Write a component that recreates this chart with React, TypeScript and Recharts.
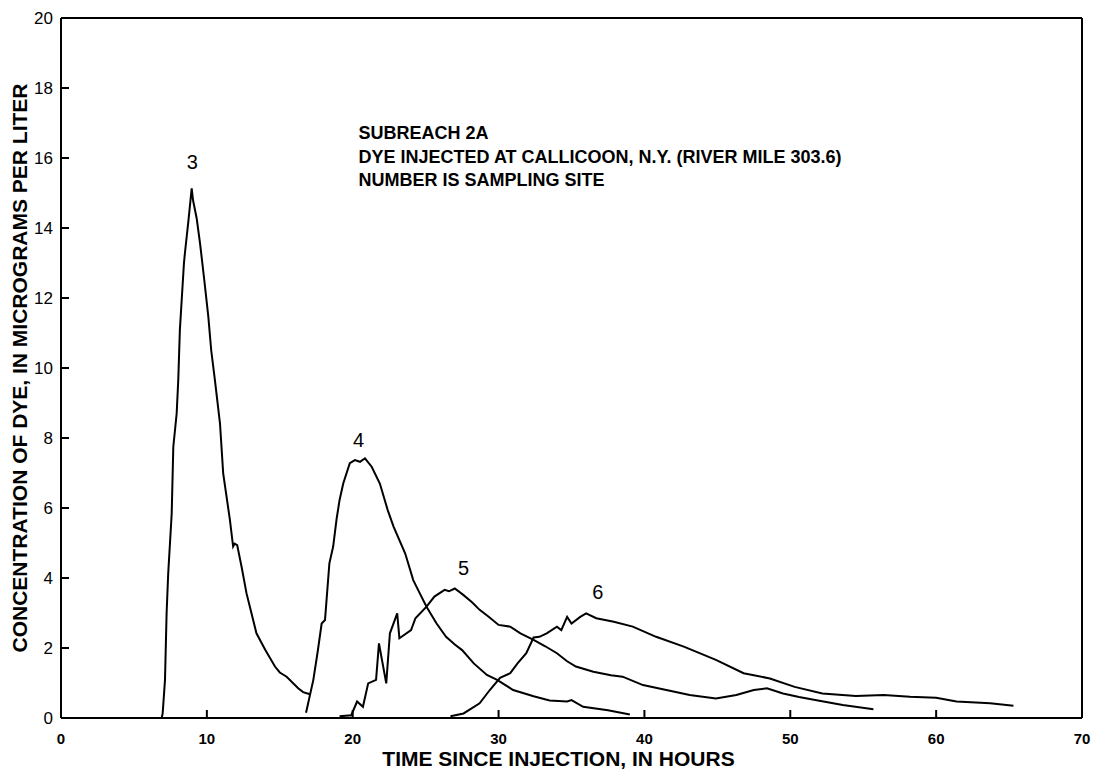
import {
  LineChart,
  Line,
  XAxis,
  YAxis,
  ReferenceDot,
} from "recharts";

// concentration (micrograms per liter) vs time since injection (hours)
const site3 = [
  { t: 6.9, c: 0 }, { t: 6.97, c: 0.13 }, { t: 7.13, c: 1.09 }, { t: 7.24, c: 2.99 },
  { t: 7.35, c: 4.13 }, { t: 7.5, c: 5.2 }, { t: 7.59, c: 5.85 }, { t: 7.7, c: 7.75 },
  { t: 7.93, c: 8.7 }, { t: 8.04, c: 9.66 }, { t: 8.15, c: 11.09 }, { t: 8.43, c: 13.0 },
  { t: 8.5, c: 13.3 }, { t: 8.73, c: 14.18 }, { t: 8.96, c: 15.13 }, { t: 9.05, c: 14.8 },
  { t: 9.3, c: 14.28 }, { t: 9.53, c: 13.57 }, { t: 9.8, c: 12.6 }, { t: 10.1, c: 11.47 },
  { t: 10.3, c: 10.5 }, { t: 10.55, c: 9.66 }, { t: 10.9, c: 8.42 }, { t: 11.12, c: 6.99 },
  { t: 11.58, c: 5.66 }, { t: 11.8, c: 4.9 }, { t: 11.9, c: 4.98 }, { t: 12.08, c: 4.94 },
  { t: 12.38, c: 4.32 }, { t: 12.72, c: 3.56 }, { t: 13.4, c: 2.42 }, { t: 14.0, c: 1.95 },
  { t: 14.67, c: 1.47 }, { t: 15.0, c: 1.3 }, { t: 15.47, c: 1.18 }, { t: 16.26, c: 0.85 },
  { t: 16.6, c: 0.74 }, { t: 17.07, c: 0.68 },
];

const site4 = [
  { t: 16.8, c: 0.15 }, { t: 17.3, c: 1.09 }, { t: 17.6, c: 1.9 }, { t: 17.87, c: 2.7 },
  { t: 18.1, c: 2.8 }, { t: 18.4, c: 4.42 }, { t: 18.66, c: 4.9 }, { t: 18.9, c: 5.7 },
  { t: 19.1, c: 6.23 }, { t: 19.35, c: 6.7 }, { t: 19.8, c: 7.28 }, { t: 20.15, c: 7.37 },
  { t: 20.5, c: 7.32 }, { t: 20.84, c: 7.42 }, { t: 21.3, c: 7.18 }, { t: 21.86, c: 6.7 },
  { t: 22.4, c: 5.94 }, { t: 22.8, c: 5.47 }, { t: 23.6, c: 4.7 }, { t: 24.15, c: 3.94 },
  { t: 24.6, c: 3.56 }, { t: 25.06, c: 3.18 }, { t: 25.75, c: 2.7 }, { t: 26.4, c: 2.32 },
  { t: 27.0, c: 2.1 }, { t: 27.5, c: 1.94 }, { t: 28.3, c: 1.56 }, { t: 29.2, c: 1.23 },
  { t: 29.9, c: 1.09 }, { t: 31.0, c: 0.8 }, { t: 32.4, c: 0.62 }, { t: 33.5, c: 0.5 },
  { t: 34.7, c: 0.47 }, { t: 35.0, c: 0.51 }, { t: 35.8, c: 0.32 }, { t: 37.5, c: 0.22 },
  { t: 39.0, c: 0.1 },
];

const site5 = [
  { t: 19.1, c: 0.05 }, { t: 19.9, c: 0.08 }, { t: 20.3, c: 0.47 }, { t: 20.7, c: 0.32 },
  { t: 21.06, c: 0.99 }, { t: 21.6, c: 1.09 }, { t: 21.8, c: 2.13 }, { t: 22.3, c: 0.99 },
  { t: 22.55, c: 2.42 }, { t: 23.05, c: 2.99 }, { t: 23.2, c: 2.28 }, { t: 24.0, c: 2.51 },
  { t: 24.3, c: 2.85 }, { t: 25.06, c: 3.18 }, { t: 25.6, c: 3.47 }, { t: 26.3, c: 3.66 },
  { t: 26.6, c: 3.62 }, { t: 27.0, c: 3.7 }, { t: 27.6, c: 3.51 }, { t: 28.2, c: 3.3 },
  { t: 28.7, c: 3.09 }, { t: 29.3, c: 2.9 }, { t: 30.0, c: 2.66 }, { t: 30.8, c: 2.61 },
  { t: 31.5, c: 2.42 }, { t: 32.4, c: 2.23 }, { t: 33.2, c: 2.05 }, { t: 34.0, c: 1.85 },
  { t: 34.7, c: 1.62 }, { t: 35.3, c: 1.47 }, { t: 36.5, c: 1.32 }, { t: 37.7, c: 1.22 },
  { t: 38.5, c: 1.18 }, { t: 39.9, c: 0.94 }, { t: 41.5, c: 0.8 }, { t: 43.1, c: 0.66 },
  { t: 44.9, c: 0.56 }, { t: 46.3, c: 0.66 }, { t: 47.5, c: 0.8 }, { t: 48.4, c: 0.85 },
  { t: 49.5, c: 0.7 }, { t: 50.6, c: 0.6 }, { t: 51.8, c: 0.51 }, { t: 53.6, c: 0.37 },
  { t: 55.7, c: 0.25 },
];

const site6 = [
  { t: 26.7, c: 0.05 }, { t: 27.6, c: 0.13 }, { t: 28.7, c: 0.42 }, { t: 29.4, c: 0.8 },
  { t: 30.1, c: 1.15 }, { t: 30.8, c: 1.28 }, { t: 31.3, c: 1.56 }, { t: 31.9, c: 1.85 },
  { t: 32.4, c: 2.3 }, { t: 32.8, c: 2.32 }, { t: 33.3, c: 2.42 }, { t: 34.0, c: 2.61 },
  { t: 34.3, c: 2.51 }, { t: 34.7, c: 2.89 }, { t: 35.0, c: 2.7 }, { t: 35.6, c: 2.89 },
  { t: 36.0, c: 2.99 }, { t: 36.7, c: 2.85 }, { t: 37.9, c: 2.75 }, { t: 39.2, c: 2.61 },
  { t: 40.8, c: 2.32 }, { t: 42.7, c: 2.04 }, { t: 44.9, c: 1.66 }, { t: 46.8, c: 1.28 },
  { t: 48.6, c: 1.13 }, { t: 50.3, c: 0.89 }, { t: 52.2, c: 0.7 }, { t: 54.5, c: 0.63 },
  { t: 56.4, c: 0.66 }, { t: 58.2, c: 0.61 }, { t: 60.0, c: 0.58 }, { t: 61.4, c: 0.47 },
  { t: 63.7, c: 0.42 }, { t: 65.3, c: 0.35 },
];

const xTicks = [0, 10, 20, 30, 40, 50, 60, 70];
const yTicks = [0, 2, 4, 6, 8, 10, 12, 14, 16, 18, 20];

// site number labels, placed above each peak
const siteLabels = [
  { name: "3", t: 9.0, c: 15.9 },
  { name: "4", t: 20.4, c: 7.95 },
  { name: "5", t: 27.6, c: 4.3 },
  { name: "6", t: 36.8, c: 3.6 },
];

const noteLines = [
  { text: "SUBREACH 2A", c: 16.72 },
  { text: "DYE INJECTED AT CALLICOON, N.Y. (RIVER MILE 303.6)", c: 16.05 },
  { text: "NUMBER IS SAMPLING SITE", c: 15.38 },
];
const noteStart = 20.4;

const font = "'Liberation Sans', Arial, Helvetica, sans-serif";
const series = [site3, site4, site5, site6];

const App = () => {
  return (
    <div style={{ width: 1096, height: 768, fontFamily: font }}>
      <LineChart
        width={1096}
        height={768}
        margin={{ top: 9, right: 21, bottom: 0, left: 0 }}
      >
        <XAxis
          dataKey="t"
          type="number"
          domain={[0, 70]}
          ticks={xTicks}
          height={58}
          tickSize={-8}
          tickMargin={23}
          stroke="#000"
          strokeWidth={2}
          tick={{ fill: "#000", fontSize: 15, fontWeight: 700, fontFamily: font }}
          label={{
            value: "TIME SINCE INJECTION, IN HOURS",
            position: "insideBottom",
            offset: 10,
            dx: -13,
            fill: "#000",
            fontSize: 21,
            fontWeight: 700,
            fontFamily: font,
          }}
        />
        <XAxis
          xAxisId="top"
          orientation="top"
          dataKey="t"
          type="number"
          domain={[0, 70]}
          ticks={xTicks}
          height={1}
          tickSize={-8}
          tickFormatter={() => ""}
          stroke="#000"
          strokeWidth={2}
        />
        <YAxis
          type="number"
          domain={[0, 20]}
          ticks={yTicks}
          width={53}
          tickSize={-8}
          tickMargin={16}
          stroke="#000"
          strokeWidth={2}
          tick={{ fill: "#000", fontSize: 17, fontFamily: font }}
          label={{
            value: "CONCENTRATION OF DYE, IN MICROGRAMS PER LITER",
            angle: -90,
            position: "insideLeft",
            offset: 12,
            fill: "#000",
            fontSize: 21,
            fontWeight: 700,
            fontFamily: font,
            style: { textAnchor: "middle" },
          }}
        />
        <YAxis
          yAxisId="r"
          orientation="right"
          type="number"
          domain={[0, 20]}
          ticks={yTicks}
          width={1}
          tickSize={-8}
          tickFormatter={() => ""}
          stroke="#000"
          strokeWidth={2}
        />
        {series.map((d, i) => (
          <Line
            key={i}
            data={d}
            dataKey="c"
            type="linear"
            stroke="#000"
            strokeWidth={2}
            dot={false}
            isAnimationActive={false}
          />
        ))}
        {siteLabels.map((s) => (
          <ReferenceDot
            key={s.name}
            x={s.t}
            y={s.c}
            r={0}
            fill="none"
            stroke="none"
            label={{
              value: s.name,
              position: "center",
              fill: "#000",
              fontSize: 20,
              fontFamily: font,
            }}
          />
        ))}
        {noteLines.map((n) => (
          <ReferenceDot
            key={n.text}
            x={noteStart}
            y={n.c}
            r={0}
            fill="none"
            stroke="none"
            label={{
              value: n.text,
              position: "right",
              offset: 0,
              fill: "#000",
              fontSize: 18,
              fontWeight: 700,
              fontFamily: font,
            }}
          />
        ))}
      </LineChart>
    </div>
  );
};

export default App;
